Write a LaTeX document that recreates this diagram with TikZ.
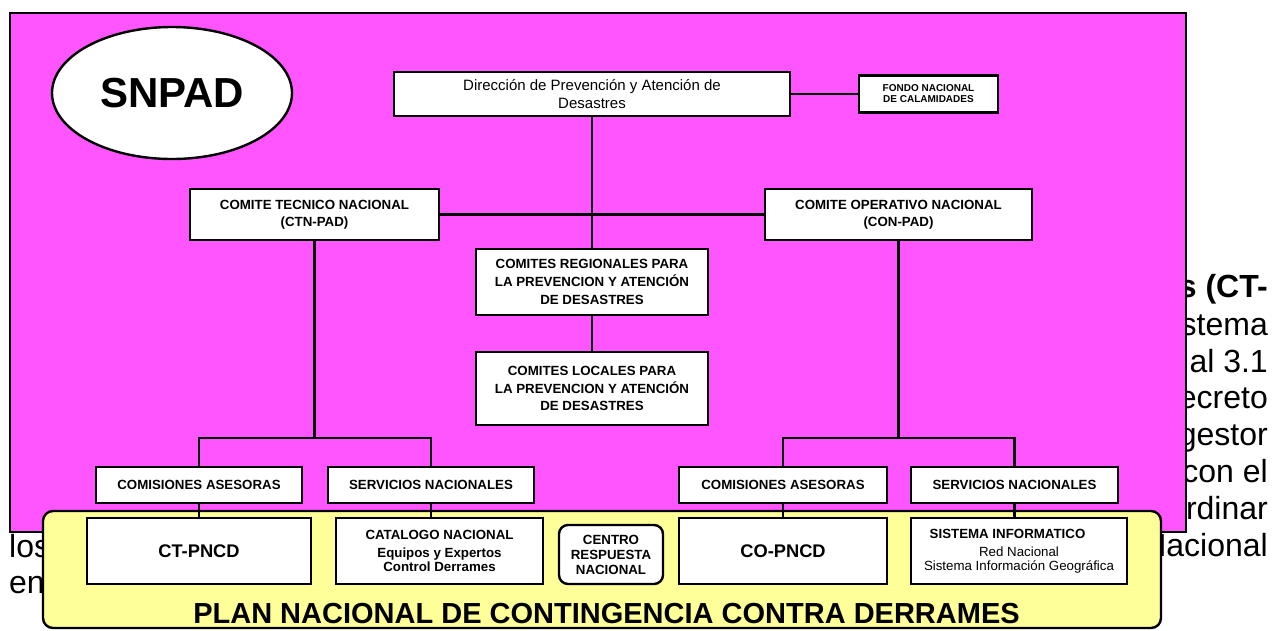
\documentclass[tikz,border=0pt]{standalone}
\usepackage{fontspec}
\setmainfont{Liberation Sans}
\usetikzlibrary{shapes.geometric}

\definecolor{snpadpink}{RGB}{255,85,255}
\definecolor{pncdyellow}{RGB}{255,255,153}

\newcommand{\orgfont}{\fontsize{13.3}{17}\selectfont\bfseries}
\newcommand{\pncdfont}{\fontsize{18.3}{20}\selectfont\bfseries}
\newcommand{\pagefont}{\fontsize{32}{37}\selectfont}

\begin{document}
\begin{tikzpicture}[x=1pt, y=-1pt,
  orgbox/.style={draw, line width=2.4pt, fill=white, inner sep=0pt, align=center, font=\orgfont},
  pagetext/.style={inner sep=0pt, font=\pagefont}]

\useasboundingbox (0,0) rectangle (1274,630);
\fill [white] (0,0) rectangle (1274,630);

% page text behind the chart
\node [pagetext, anchor=base east, font=\pagefont\bfseries] (p0) at (1268,297) {s (CT-};
\node [pagetext, anchor=base east] (p1) at (1268,335) {stema};
\node [pagetext, anchor=base east] (p2) at (1268,372) {al 3.1};
\node [pagetext, anchor=base east] (p3) at (1268,408) {ecreto};
\node [pagetext, anchor=base east] (p4) at (1268,445) {gestor};
\node [pagetext, anchor=base east] (p5) at (1268,482) {con el};
\node [pagetext, anchor=base east] (p6) at (1268,519) {rdinar};
\node [pagetext, anchor=base east] (p7) at (1268,556) {Nacional};
\node [pagetext, anchor=base west] (p8) at (9,557) {los};
\node [pagetext, anchor=base west] (p9) at (9,593) {en};

% SNPAD frame
\filldraw [fill=snpadpink, line width=2.4pt] (10,13) rectangle (1186,532);

\node [draw, ellipse, line width=2.4pt, fill=white, inner sep=0pt, minimum width=240pt, minimum height=132pt, font=\fontsize{42}{42}\selectfont\bfseries] (snpad) at (172,93) {SNPAD};

\node [orgbox, minimum width=396pt, minimum height=44pt, font=\fontsize{15}{18}\selectfont] (dir) at (592,94) {Dirección de Prevención y Atención de\\Desastres};
\node [orgbox, minimum width=139pt, minimum height=37pt, font=\fontsize{10}{11}\selectfont\bfseries] (fondo) at (928.5,94) {FONDO NACIONAL\\DE CALAMIDADES};

\node [orgbox, minimum width=249pt, minimum height=51pt] (ctn) at (314.5,214.5) {COMITE TECNICO NACIONAL\\(CTN-PAD)};
\node [orgbox, minimum width=267pt, minimum height=51pt] (con) at (898.5,214.5) {COMITE OPERATIVO NACIONAL\\(CON-PAD)};

\node [orgbox, minimum width=232pt, minimum height=66pt, font=\fontsize{13.3}{18}\selectfont\bfseries] (reg) at (592,282) {COMITES REGIONALES PARA\\LA PREVENCION Y ATENCIÓN\\DE DESASTRES};
\node [orgbox, minimum width=232pt, minimum height=73pt, font=\fontsize{13.3}{17.5}\selectfont\bfseries] (loc) at (592,388.5) {COMITES LOCALES PARA\\LA PREVENCION Y ATENCIÓN\\DE DESASTRES};

\node [orgbox, minimum width=206pt, minimum height=36pt] (ca1) at (199,485) {COMISIONES ASESORAS};
\node [orgbox, minimum width=206pt, minimum height=36pt] (sn1) at (431,485) {SERVICIOS NACIONALES};
\node [orgbox, minimum width=208pt, minimum height=36pt] (ca2) at (783,485) {COMISIONES ASESORAS};
\node [orgbox, minimum width=207pt, minimum height=36pt] (sn2) at (1014.5,485) {SERVICIOS NACIONALES};

% PNCD frame
\draw [fill=pncdyellow, line width=2.4pt, rounded corners=10pt] (43,511) rectangle (1161,628);

\node [orgbox, minimum width=224pt, minimum height=66pt, font=\pncdfont] (ctp) at (199,551) {CT-PNCD};
\node [orgbox, minimum width=207pt, minimum height=66pt, font=\fontsize{13.3}{14}\selectfont\bfseries] (cat) at (439.5,551) {CATALOGO NACIONAL\\[4pt]Equipos y Expertos\\Control Derrames};
\node [orgbox, rounded corners=9pt, minimum width=104pt, minimum height=59pt, font=\fontsize{13.3}{15}\selectfont\bfseries] (cen) at (611,554.5) {CENTRO\\RESPUESTA\\NACIONAL};
\node [orgbox, minimum width=208pt, minimum height=66pt, font=\pncdfont] (cop) at (783,551) {CO-PNCD};
\node [orgbox, minimum width=216pt, minimum height=66pt, font=\fontsize{13.3}{14}\selectfont] (sis) at (1019,551) {{\bfseries SISTEMA INFORMATICO}\hspace*{23pt}\\[4pt]Red Nacional\\Sistema Información Geográfica};

\node [inner sep=0pt, font=\fontsize{29}{29}\selectfont\bfseries] (plan) at (606.5,613.5) {PLAN NACIONAL DE CONTINGENCIA CONTRA DERRAMES};

\coordinate (ctnfork) at (314.5,438);
\coordinate (confork) at (898.5,438);

\begin{scope}[line width=2.4pt]
\draw (dir.east) -- (fondo.west); %dir-fondo
\draw (dir.south) -- (reg.north); %dir-reg
\draw (ctn.east) -- (con.west); %ctn-con
\draw (reg.south) -- (loc.north); %reg-loc
\draw (ctn.south) -- (ctnfork); %ctn-fork
\draw (ca1.north) |- (ctnfork) -| (sn1.north); %fork-ca1-sn1
\draw (con.south) -- (confork); %con-fork
\draw (ca2.north) |- (confork) -| (sn2.north); %fork-ca2-sn2
\draw (ca1.south) -- (ctp.north); %ca1-ctp
\draw (sn1.south) -- (sn1.south |- cat.north); %sn1-cat
\draw (ca2.south) -- (cop.north); %ca2-cop
\draw (sn2.south) -- (sn2.south |- sis.north); %sn2-sis
\end{scope}

\end{tikzpicture}
\end{document}
